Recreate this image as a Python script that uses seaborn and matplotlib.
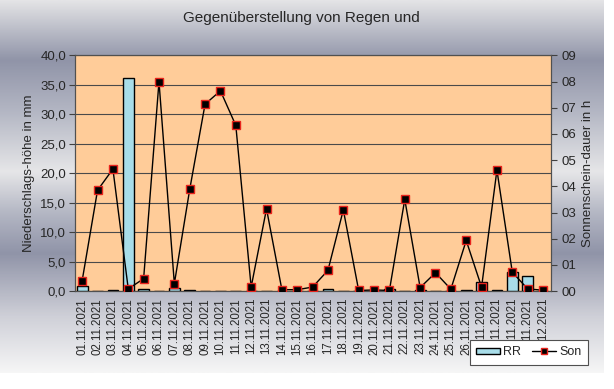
import numpy as np
import pandas as pd
import seaborn as sns
import matplotlib.pyplot as plt
from matplotlib.colors import LinearSegmentedColormap
from matplotlib.patches import Patch
from matplotlib.lines import Line2D
from matplotlib.ticker import FuncFormatter, FixedLocator

days = [f'{d:02d}.11.2021' for d in range(1, 31)] + ['01.12.2021']
rr = [0.8, 0.0, 0.2, 36.2, 0.3, 0.0, 0.5, 0.2, 0.0, 0.0,
      0.0, 0.0, 0.0, 0.0, 0.0, 0.0, 0.3, 0.0, 0.0, 0.0,
      0.4, 0.0, 0.2, 0.0, 0.0, 0.2, 1.6, 0.2, 3.2, 2.6, 0.0]
son = [0.4, 3.85, 4.66, 0.08, 0.47, 8.0, 0.28, 3.88, 7.14, 7.65,
       6.33, 0.15, 3.14, 0.05, 0.05, 0.15, 0.79, 3.1, 0.02, 0.04,
       0.02, 3.5, 0.13, 0.7, 0.07, 1.93, 0.15, 4.62, 0.72, 0.08, 0.03]

df = pd.DataFrame({'Tag': days, 'RR': rr, 'Son': son})
df['pos'] = np.arange(len(df))

sns.set_style('white')
plt.rcParams['font.family'] = ['Liberation Sans', 'DejaVu Sans']

fig = plt.figure(figsize=(6.14, 3.89), dpi=100)

# grey gradient background of the chart area
bg = fig.add_axes([0, 16 / 389, 604 / 614, 373 / 389], zorder=-10)
cmap = LinearSegmentedColormap.from_list('bg', [
    (0.0, '#e4e4e6'), (0.16, '#9094a8'), (0.30, '#b4b7c4'), (0.46, '#e6e6e8'),
    (0.57, '#b4b7c4'), (0.68, '#9094a8'), (0.85, '#cfd0d8'), (1.0, '#f6f6f6')])
bg.imshow(np.linspace(0, 1, 256).reshape(-1, 1), aspect='auto', cmap=cmap,
          extent=[0, 1, 0, 1])
bg.axis('off')

ax = fig.add_axes([74.5 / 614, 98 / 389, 476.2 / 614, 235.5 / 389])
ax.set_facecolor('#ffcc99')

sns.barplot(data=df, x='pos', y='RR', ax=ax, color='#a8dde9', width=0.7,
            edgecolor='black', linewidth=1, saturation=1, native_scale=True,
            zorder=3)
ax.set_xlim(-0.5, len(df) - 0.5)
ax.set_ylim(0, 40)
ax.set_yticks(np.arange(0, 41, 5))
ax.yaxis.set_major_formatter(FuncFormatter(lambda v, p: f'{v:.1f}'.replace('.', ',')))
ax.grid(axis='y', color='#4a4a4a', linewidth=0.8, zorder=0)
ax.set_axisbelow(True)
ax.set_xticks(df['pos'])
ax.set_xticklabels(df['Tag'], rotation=90, fontsize=8.3)
ax.xaxis.set_minor_locator(FixedLocator(np.arange(-0.5, len(df), 1)))
ax.tick_params(axis='x', which='major', length=0, pad=5)
ax.tick_params(axis='x', which='minor', length=4, width=0.8, color='#404040')
ax.tick_params(axis='y', length=4, width=0.8, color='#404040', labelsize=9.5, pad=2)
ax.set_xlabel('')
ax.set_ylabel('Niederschlags-höhe in mm', fontsize=9.5, labelpad=4)

ax2 = ax.twinx()
sns.lineplot(data=df, x='pos', y='Son', ax=ax2, color='black', linewidth=1,
             marker='s', markersize=5.5, markerfacecolor='black',
             markeredgecolor='#e8231c', markeredgewidth=1, zorder=5)
ax2.set_ylim(0, 9)
ax2.set_yticks(np.arange(0, 10, 1))
ax2.yaxis.set_major_formatter(FuncFormatter(lambda v, p: f'{int(v):02d}'))
ax2.tick_params(axis='y', length=4, width=0.8, color='#404040', labelsize=9.5, pad=4)
ax2.set_ylabel('Sonnenschein-dauer in h', fontsize=9.5, labelpad=4)
ax2.set_xlim(-0.5, len(df) - 0.5)

for a in (ax, ax2):
    for s in a.spines.values():
        s.set_color('#505050')
        s.set_linewidth(0.8)

fig.text(301.5 / 614, 1 - 18 / 389, 'Gegenüberstellung von Regen und',
         ha='center', va='center', fontsize=11)

# legend sits over the lowest part of the date labels, as in the original
handles = [Patch(facecolor='#a8dde9', edgecolor='black', linewidth=1),
           Line2D([0], [0], color='black', linewidth=1, marker='s', markersize=5,
                  markerfacecolor='black', markeredgecolor='#e8231c')]
leg = fig.legend(handles, ['RR', 'Son'], ncol=2, loc='upper left',
                 bbox_to_anchor=(470 / 614, 1 - 340 / 389), borderaxespad=0,
                 fontsize=9, frameon=True, fancybox=False, edgecolor='#505050',
                 framealpha=1, handlelength=1.9, handleheight=0.4,
                 columnspacing=0.9, handletextpad=0.25, borderpad=0.5)
leg.get_frame().set_linewidth(0.8)

fig.savefig('out.png', dpi=100)
